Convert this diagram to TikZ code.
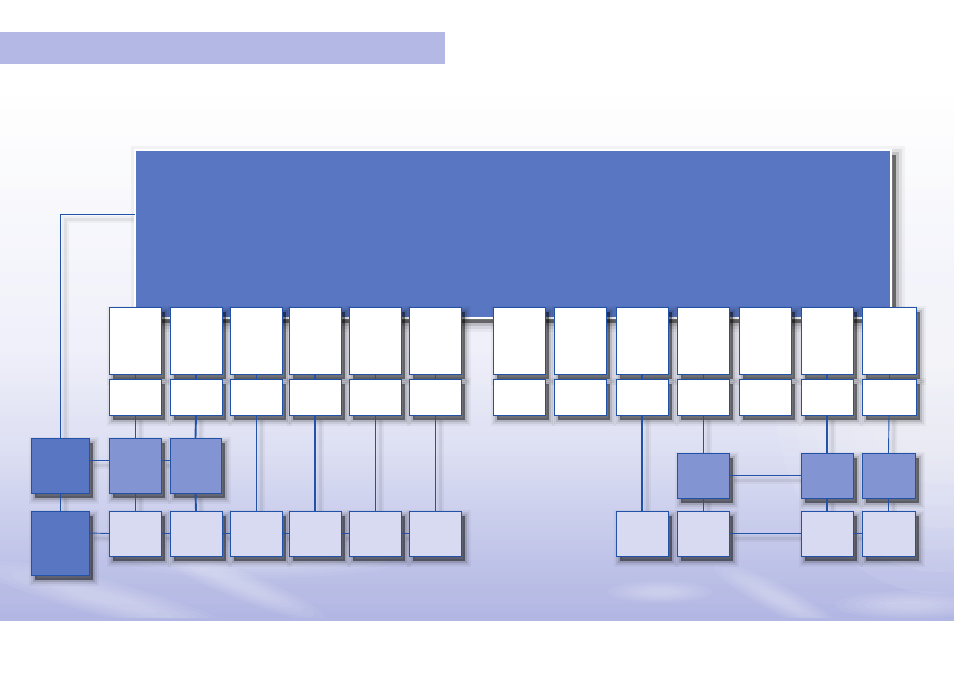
\documentclass[tikz,border=0pt]{standalone}
\usetikzlibrary{calc}
\definecolor{lnblue}{HTML}{2152A8}
\definecolor{dkfill}{HTML}{5876C2}
\definecolor{mdfill}{HTML}{8294D2}
\definecolor{ltfill}{HTML}{D8DAF1}
\definecolor{barfill}{HTML}{B3B8E4}
\definecolor{skyA}{HTML}{B1B6E3}
\pgfdeclarelayer{bg}
\pgfdeclarelayer{wsh}
\pgfdeclarelayer{wires}
\pgfsetlayers{bg,wsh,main,wires}
\newcommand\wireconn[2][]{%
  \begin{pgfonlayer}{wsh}\draw[wshadowA] #2;\draw[wshadowB] #2;\end{pgfonlayer}%
  \begin{pgfonlayer}{wires}\draw[wire,#1] #2;\end{pgfonlayer}}
\begin{document}
\begin{tikzpicture}[x=1pt,y=-1pt,
  softshadow/.style={
    preaction={fill=black, draw=black, line width=12pt, opacity=0.04, transform canvas={xshift=4pt,yshift=-5pt}},
    preaction={fill=black, draw=black, line width=8pt, opacity=0.07, transform canvas={xshift=4pt,yshift=-5pt}},
    preaction={fill=black, draw=black, line width=4pt, opacity=0.12, transform canvas={xshift=4pt,yshift=-5pt}},
    preaction={fill=black, opacity=0.3, transform canvas={xshift=4pt,yshift=-5pt}}},
  box/.style={draw=lnblue, line width=1pt, inner sep=0pt, outer sep=0pt, anchor=north west, softshadow},
  wbox/.style={box, fill=white, minimum width=52pt},
  tallbox/.style={wbox, minimum height=67pt},
  smallbox/.style={wbox, minimum height=36pt},
  medbox/.style={box, fill=mdfill, minimum width=52pt},
  litebox/.style={box, fill=ltfill, minimum width=52pt, minimum height=45pt},
  darkbox/.style={box, fill=dkfill, minimum width=58pt},
  wire/.style={draw=lnblue, line width=0.9pt},
  thk/.style={line width=1.9pt},
  wshadowA/.style={draw=black, opacity=0.04, line width=7pt, transform canvas={xshift=5pt,yshift=-5pt}},
  wshadowB/.style={draw=black, opacity=0.06, line width=3pt, transform canvas={xshift=5pt,yshift=-5pt}},
  cloud/.style={fill=white, opacity=0.06}
]
\useasboundingbox (0,0) rectangle (954,673);
\begin{pgfonlayer}{bg}
  \fill[white] (0,0) rectangle (954,673);
  \foreach \k in {0,...,134}{
    \pgfmathsetmacro{\yy}{80+4*\k}
    \pgfmathtruncatemacro{\pp}{\yy<200 ? 9*(\yy-80)/120 : (\yy<350 ? 9+13*(\yy-200)/150 : (\yy<450 ? 22+23*(\yy-350)/100 : (\yy<560 ? 45+38*(\yy-450)/110 : 83+17*(\yy-560)/57)))}
    \fill[skyA!\pp!white] (0,\yy) rectangle (954,\yy+4.6);
  }
  \fill[skyA] (0,614) rectangle (954,617.5);
  % soft white glow on the right and cloud wisps
  \foreach \r in {1,...,7}{
    \fill[cloud, opacity=0.08] (940,390) ellipse ({40+18*\r} and {50+22*\r});
  }
  \begin{scope}
    \clip (0,80) rectangle (954,617);
    \foreach \r in {1,...,6}{
      \fill[cloud, rotate around={-15:(110,600)}] (110,600) ellipse ({30+18*\r} and {3+2.5*\r});
      \fill[cloud, rotate around={-22:(240,585)}] (240,585) ellipse ({20+12*\r} and {2+2*\r});
      \fill[cloud] (260,556) ellipse ({30+20*\r} and {4+3*\r});
      \fill[cloud, rotate around={-28:(780,600)}] (780,600) ellipse ({15+10*\r} and {2+2*\r});
      \fill[cloud] (910,605) ellipse ({15+10*\r} and {2+2*\r});
      \fill[cloud] (660,592) ellipse ({10+7*\r} and {2+1.5*\r});
    }
  \end{scope}
\end{pgfonlayer}

% top bar
\node[fill=barfill, anchor=north west, minimum width=445pt, minimum height=32pt, inner sep=0pt] (bar) at (0,32) {};

% big box
\node[fill=dkfill, draw=white, line width=1.6pt, anchor=north west, inner sep=0pt, outer sep=0pt,
  minimum width=756pt, minimum height=168pt,
  preaction={fill=black, draw=black, line width=18pt, opacity=0.04, transform canvas={xshift=5pt,yshift=-5pt}},
  preaction={fill=black, draw=black, line width=12pt, opacity=0.07, transform canvas={xshift=5pt,yshift=-5pt}},
  preaction={fill=black, draw=black, line width=6pt, opacity=0.12, transform canvas={xshift=5pt,yshift=-5pt}},
  preaction={fill=black, opacity=0.3, transform canvas={xshift=5pt,yshift=-5pt}}] (big) at (135,150) {};

% tall boxes and small boxes
\foreach \i/\x in {1/109,2/170,3/230,4/289,5/349,6/409,7/493,8/554,9/616,10/677,11/739,12/801}{
  \node[tallbox] (t\i) at (\x,307) {};
  \node[smallbox] (s\i) at (\x,379) {};
}
\node[tallbox, minimum width=54pt] (t13) at (862,307) {};
\node[smallbox, minimum width=54pt] (s13) at (862,379) {};

% left lower boxes
\node[darkbox, minimum height=55pt] (d1) at (31,438) {};
\node[darkbox, minimum height=64pt] (d2) at (31,511) {};
\node[medbox, minimum height=55pt] (m1) at (109,438) {};
\node[medbox, minimum height=55pt, minimum width=51pt] (m2) at (170,438) {};
\foreach \i/\x in {1/109,2/170,3/230,4/289,5/349,6/409}{
  \node[litebox] (l\i) at (\x,511) {};
}

% right lower boxes
\node[medbox, minimum height=45pt] (m10) at (677,453) {};
\node[medbox, minimum height=45pt] (m12) at (801,453) {};
\node[medbox, minimum height=45pt, minimum width=53pt] (m13) at (862,453) {};
\node[litebox] (l9) at (616,511) {};
\node[litebox] (l10) at (677,511) {};
\node[litebox] (l12) at (801,511) {};
\node[litebox, minimum width=53pt] (l13) at (862,511) {};

% helper coordinates
\coordinate (hTop) at (0,214);
\coordinate (hA) at (0,460);
\coordinate (hB) at (0,533);

% connectors
\wireconn{(big.west |- hTop) -| (d1.north)}
\wireconn{(d1.south) -- (d2.north)}
\wireconn{(d1.east |- hA) -- (m1.west |- hA)}
\wireconn{(m1.east |- hA) -- (m2.west |- hA)}
\wireconn{(d2.east |- hB) -- (l1.west)}
\wireconn{(l1.east) -- (l2.west)}
\wireconn{(l2.east) -- (l3.west)}
\wireconn{(l3.east) -- (l4.west)}
\wireconn{(l4.east) -- (l5.west)}
\wireconn{(l5.east) -- (l6.west)}

\wireconn{(t1.south) -- (s1.north)}
\wireconn[thk]{(t2.south) -- (s2.north)}
\wireconn{(t3.south) -- (s3.north)}
\wireconn[thk]{(t4.south) -- (s4.north)}
\wireconn{(t5.south) -- (s5.north)}
\wireconn{(t6.south) -- (s6.north)}
\wireconn[thk]{(t9.south) -- (s9.north)}
\wireconn{(t10.south) -- (s10.north)}
\wireconn[thk]{(t12.south) -- (s12.north)}
\wireconn{(t13.south) -- (s13.north)}

\wireconn{(s1.south) -- (m1.north)}
\wireconn{(m1.south) -- (l1.north)}
\wireconn[thk]{(s2.south) -- (m2.north)}
\wireconn[thk]{(m2.south) -- (l2.north)}
\wireconn{(s3.south) -- (l3.north)}
\wireconn[thk]{(s4.south) -- (l4.north)}
\wireconn{(s5.south) -- (l5.north)}
\wireconn{(s6.south) -- (l6.north)}

\wireconn[thk]{(s9.south) -- (l9.north)}
\wireconn{(s10.south) -- (m10.north)}
\wireconn{(m10.south) -- (l10.north)}
\wireconn[thk]{(s12.south) -- (m12.north)}
\wireconn[thk]{(m12.south) -- (l12.north)}
\wireconn{(s13.south) -- (m13.north)}
\wireconn{(m13.south) -- (l13.north)}
\wireconn[thk]{(m10.east) -- (m12.west)}
\wireconn{(l10.east) -- (l12.west)}
\wireconn{(l12.east) -- (l13.west)}
\end{tikzpicture}
\end{document}
